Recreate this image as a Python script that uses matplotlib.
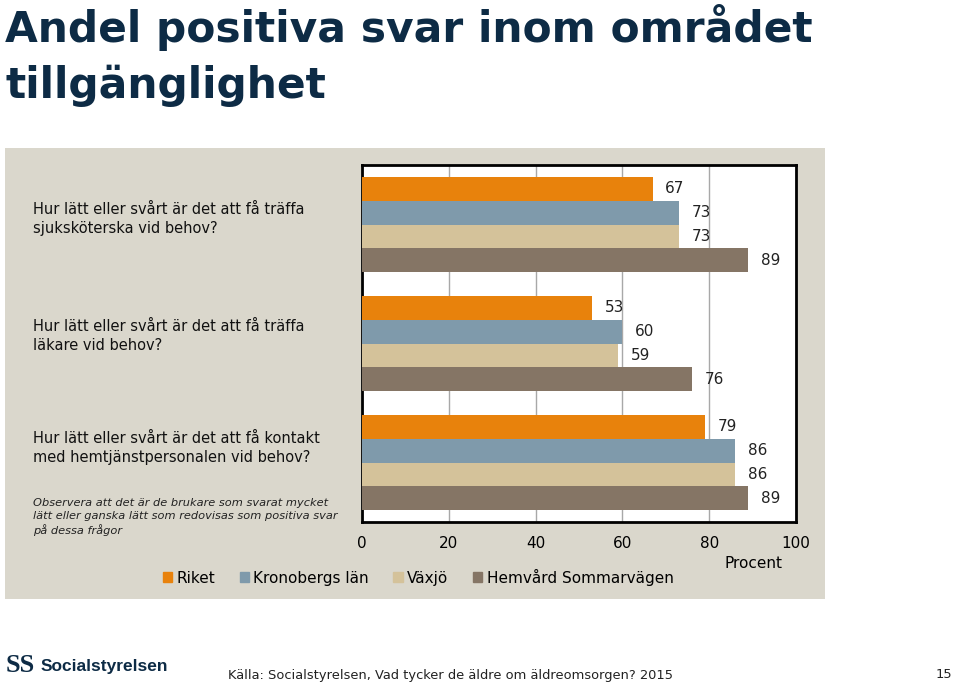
import matplotlib
matplotlib.use("Agg")
import matplotlib.pyplot as plt
from matplotlib.patches import Rectangle
import numpy as np

# ---- data ----
questions = [
    "Hur lätt eller svårt är det att få träffa\nsjuksköterska vid behov?",
    "Hur lätt eller svårt är det att få träffa\nläkare vid behov?",
    "Hur lätt eller svårt är det att få kontakt\nmed hemtjänstpersonalen vid behov?",
]
series_names = ["Riket", "Kronobergs län", "Växjö", "Hemvård Sommarvägen"]
riket = [67, 53, 79]
kronoberg = [73, 60, 86]
vaxjo = [73, 59, 86]
sommarvagen = [89, 76, 89]
xticks = [0, 20, 40, 60, 80, 100]
title = "Andel positiva svar inom området\ntillgänglighet"
note = ("Observera att det är de brukare som svarat mycket\n"
        "lätt eller ganska lätt som redovisas som positiva svar\n"
        "på dessa frågor")
source = "Källa: Socialstyrelsen, Vad tycker de äldre om äldreomsorgen? 2015"
page = "15"

colors = ["#e8820c", "#7f9aab", "#d4c29a", "#857565"]
bg = "#dad7cc"
navy = "#0d2b45"

W, H = 959, 688
fig = plt.figure(figsize=(W / 100, H / 100), dpi=100)
fig.patch.set_facecolor("white")

def fx(px):
    return px / W

def fy(py):
    return 1 - py / H

# panel background
panel = Rectangle((fx(5), fy(599)), fx(825) - fx(5), fy(148) - fy(599),
                  transform=fig.transFigure, facecolor=bg, edgecolor="none", zorder=-5)
fig.patches.append(panel)

ax = fig.add_axes([fx(362), fy(522), fx(796) - fx(362), fy(165) - fy(522)], zorder=2)
ax.set_facecolor("white")

values = [riket, kronoberg, vaxjo, sommarvagen]
centers = np.arange(len(questions))
h = 0.2
for i, (vals, name, c) in enumerate(zip(values, series_names, colors)):
    bars = ax.barh(centers + (i - 1.5) * h, vals, height=h, color=c, label=name, zorder=3)
    ax.bar_label(bars, labels=[str(v) for v in vals], padding=9, fontsize=11,
                 color="#222222")

ax.set_ylim(2.5, -0.5)
ax.set_xlim(0, 100)
ax.set_xticks(xticks)
ax.set_xticklabels([str(t) for t in xticks], fontsize=11)
ax.tick_params(axis="x", length=0, pad=10)
ax.set_yticks([])
ax.grid(axis="x", color="#a8a8a8", lw=1, zorder=0)
ax.set_axisbelow(True)
for s in ax.spines.values():
    s.set_color("black")
    s.set_linewidth(2)

fig.text(fx(753), fy(563), "Procent", fontsize=11, ha="center", va="center")

# question labels
label_y = [219, 336, 448]
for q, y in zip(questions, label_y):
    fig.text(fx(33), fy(y), q, fontsize=10.5, ha="left", va="center", color="#111111",
             linespacing=1.3)
fig.text(fx(33), fy(517), note, fontsize=8.2, style="italic", ha="left", va="center",
         color="#222222", linespacing=1.3)

# legend
handles = [Rectangle((0, 0), 1, 1, color=c) for c in colors]
leg = fig.legend(handles, series_names, loc="center", bbox_to_anchor=(fx(418), fy(577)),
                 ncol=4, frameon=False, fontsize=11, handlelength=0.6, handleheight=0.6,
                 handletextpad=0.3, columnspacing=1.6)

# title
fig.text(fx(5), fy(4), title, fontsize=30.5, fontweight="bold", color=navy,
         ha="left", va="top", linespacing=1.4)

# footer
fig.text(fx(6), fy(665), "SS", fontsize=19, fontweight="bold", color=navy,
         ha="left", va="center", family="Liberation Serif")
fig.text(fx(41), fy(667), "Socialstyrelsen", fontsize=12.5, fontweight="bold", color=navy,
         ha="left", va="center", family="Liberation Sans")
fig.text(fx(228), fy(675), source, fontsize=9.4, color="#222222", ha="left", va="center")
fig.text(fx(952), fy(675), page, fontsize=9.4, color="#222222", ha="right", va="center")

fig.savefig("out.png", dpi=100)
